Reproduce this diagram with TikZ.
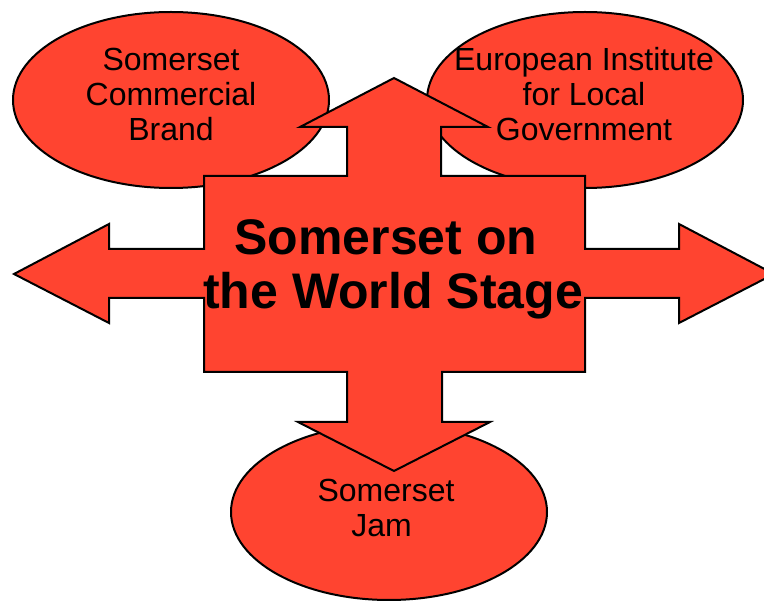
\documentclass[tikz,border=0pt]{standalone}
\usepackage{fontspec}
\setmainfont{Liberation Sans}
\usetikzlibrary{calc}

\definecolor{stagered}{RGB}{255,68,48}

\begin{document}
\begin{tikzpicture}[x=1pt,y=-1pt,line width=2pt,
    ovaltext/.style={align=center,font=\fontsize{32}{35}\selectfont},
    titletext/.style={align=center,font=\bfseries\fontsize{50}{54}\selectfont}]
    % Important coordinates are defined
    \coordinate (brand_c) at (171,100);
    \coordinate (euro_c) at (585,100);
    \coordinate (jam_c) at (389,512);
    \coordinate (tip_up) at (394,78);
    \coordinate (tip_down) at (394,471);
    \coordinate (tip_left) at (14,274);
    \coordinate (tip_right) at (774,274);
    \coordinate (box_1) at (204,176);
    \coordinate (box_2) at (585,372);
    %\coordinate (mid) at ($(box_1)!.5!(box_2)$);

    \clip (0,0) rectangle (764,601);

    \draw[fill=stagered] (brand_c) ellipse [x radius=158pt, y radius=88pt];
    \draw[fill=stagered] (euro_c) ellipse [x radius=158pt, y radius=88pt];
    \draw[fill=stagered] (jam_c) ellipse [x radius=158pt, y radius=88pt];

    % the four-way arrow
    \draw[fill=stagered] (tip_up) -- (488,127) -- (441,127) -- (441,176)
        -- (box_2 |- box_1) -- (585,249) -- (679,249) -- (679,224)
        -- (tip_right) -- (679,323) -- (679,298) -- (585,298)
        -- (box_2) -- (442,372) -- (442,422) -- (490,422)
        -- (tip_down) -- (298,422) -- (347,422) -- (347,372)
        -- (box_1 |- box_2) -- (204,298) -- (109,298) -- (109,323)
        -- (tip_left) -- (109,224) -- (109,249) -- (204,249)
        -- (box_1) -- (347,176) -- (347,127) -- (300,127) -- cycle;

    \node[ovaltext] (brand) at (171,94) {Somerset\\Commercial\\Brand};
    \node[ovaltext] (euro) at (584,94) {European Institute\\for Local\\Government};
    \node[ovaltext] (jam) at (386,508) {Somerset\\Jam\hspace*{.28em}};
    \node[titletext] (stage) at (393,269) {Somerset on\hspace*{.28em}\\the World Stage};
\end{tikzpicture}
\end{document}
